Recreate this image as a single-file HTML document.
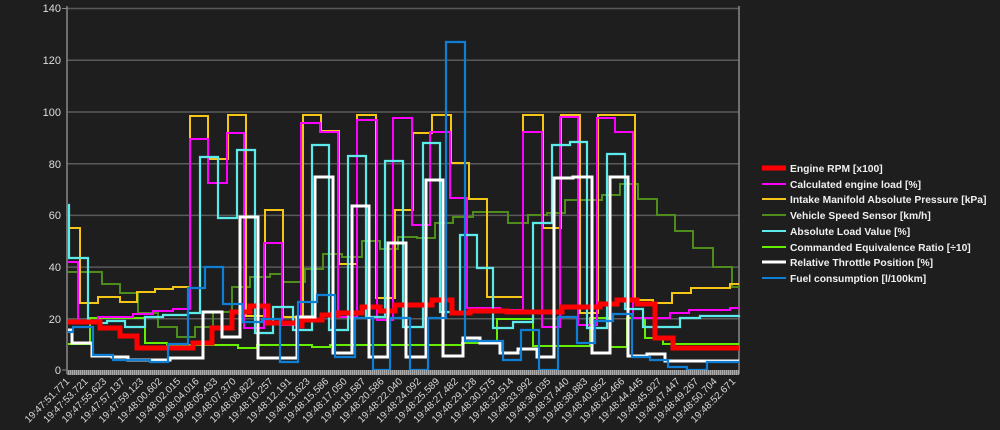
<!DOCTYPE html>
<html><head><meta charset="utf-8"><style>
html,body{margin:0;padding:0;background:#1e1e1e;width:1000px;height:430px;overflow:hidden}
svg{display:block}
text{font-family:"Liberation Sans",sans-serif}
</style></head><body>
<svg id="s" width="1000" height="430" xmlns="http://www.w3.org/2000/svg">
<rect width="1000" height="430" fill="#1e1e1e"/>
<g stroke="#5a5a5a" stroke-width="1.5">
<line x1="67" y1="8.5" x2="739" y2="8.5"/>
<line x1="67" y1="60.3" x2="739" y2="60.3"/>
<line x1="67" y1="112" x2="739" y2="112"/>
<line x1="67" y1="163.7" x2="739" y2="163.7"/>
<line x1="67" y1="215.4" x2="739" y2="215.4"/>
<line x1="67" y1="267.1" x2="739" y2="267.1"/>
<line x1="67" y1="318.8" x2="739" y2="318.8"/>
</g>
<line x1="67" y1="6" x2="67" y2="374" stroke="#888" stroke-width="1.5"/>
<line x1="739" y1="6" x2="739" y2="374" stroke="#888" stroke-width="1.5"/>
<g fill="#ddd" font-size="11" text-anchor="end">
<text x="61" y="12">140</text><text x="61" y="64">120</text><text x="61" y="116">100</text>
<text x="61" y="168">80</text><text x="61" y="219">60</text><text x="61" y="271">40</text>
<text x="61" y="323">20</text><text x="61" y="374">0</text>
</g>
<g stroke="#888"><line x1="62" y1="8.5" x2="67" y2="8.5"/><line x1="62" y1="370" x2="67" y2="370"/></g>
<g id="series" fill="none" stroke-linejoin="miter"></g>
<defs><pattern id="tk" width="2" height="6" patternUnits="userSpaceOnUse"><rect width="1" height="6" fill="#aaa"/><rect x="1" width="1" height="6" fill="#777"/></pattern></defs>
<rect x="67" y="370" width="672" height="5" fill="url(#tk)"/>
<g id="xl" fill="#d8d8d8" font-size="10" text-anchor="end"></g>
<g font-size="10.3" font-weight="bold" fill="#f0f0f0">
<line x1="762" y1="168" x2="786" y2="168" stroke="#ff0000" stroke-width="5"/><text x="790" y="172">Engine RPM [x100]</text>
<line x1="762" y1="184" x2="786" y2="184" stroke="#ff00ff" stroke-width="2"/><text x="790" y="188">Calculated engine load [%]</text>
<line x1="762" y1="199" x2="786" y2="199" stroke="#f5c518" stroke-width="2"/><text x="790" y="203">Intake Manifold Absolute Pressure [kPa]</text>
<line x1="762" y1="215" x2="786" y2="215" stroke="#4e8c1c" stroke-width="2"/><text x="790" y="219">Vehicle Speed Sensor [km/h]</text>
<line x1="762" y1="231" x2="786" y2="231" stroke="#5ceaea" stroke-width="2"/><text x="790" y="235">Absolute Load Value [%]</text>
<line x1="762" y1="247" x2="786" y2="247" stroke="#66ee00" stroke-width="2"/><text x="790" y="251">Commanded Equivalence Ratio [÷10]</text>
<line x1="762" y1="262" x2="786" y2="262" stroke="#ffffff" stroke-width="3"/><text x="790" y="266">Relative Throttle Position [%]</text>
<line x1="762" y1="278" x2="786" y2="278" stroke="#0f7fd6" stroke-width="2"/><text x="790" y="282">Fuel consumption [l/100km]</text>
</g>
</svg>
<script>
var S=[
["#4e8c1c",2,[68,272,102,284,120,293,138,313,158,327,177,337,195,327,213,312,232,287,250,277,270,274,283,282,305,269,323,254,342,257,362,241,380,249,398,237,417,238,435,223,453,217,473,212,508,223,528,215,547,213,565,200,602,195,620,184,638,199,657,215,675,231,693,248,713,267,732,287,739,287]],
["#66ee00",2,[68,344,90,318,145,343,167,345,238,348,257,345,312,347,330,345,442,345,462,343,497,319,533,346,590,318,610,347,627,318,645,338,663,344,739,344]],
["#f5c518",2,[68,228,80,303,98,297,120,302,137,292,155,289,173,287,190,116,208,159,228,115,246,316,265,210,283,317,303,115,321,131,339,264,357,115,376,298,395,210,413,133,432,115,451,163,469,199,487,297,523,115,543,228,561,115,580,313,598,115,635,300,653,303,672,293,691,288,730,284,739,284]],
["#ff00ff",2,[68,262,78,323,98,317,133,314,153,311,173,309,190,139,208,183,227,133,244,328,264,243,282,325,301,123,320,132,338,317,357,120,377,320,393,118,412,225,430,132,450,198,467,308,500,310,523,132,542,327,560,117,578,325,597,118,615,132,633,318,670,313,689,310,730,308,739,308]],
["#5ceaea",2.2,[68,205,69,258,88,323,107,321,125,327,145,317,163,315,188,313,200,157,218,218,237,150,255,333,273,307,293,330,312,145,329,330,348,156,366,317,385,161,403,327,423,143,440,312,460,235,477,268,493,328,513,322,533,223,552,145,570,142,587,328,607,154,625,309,643,327,680,318,700,316,739,315]],
["#ff0000",5,[68,322,100,328,120,336,137,348,193,343,212,328,232,312,250,306,268,323,298,326,302,320,322,315,338,313,362,307,380,311,395,305,432,300,452,313,470,311,507,312,525,312,562,307,600,304,617,300,637,304,655,338,673,348,739,348]],
["#ffffff",3,[68,330,72,343,92,356,112,357,128,360,170,358,203,312,222,337,240,217,258,358,297,317,315,177,333,353,352,206,369,357,388,243,406,357,426,180,443,356,463,338,480,343,500,353,518,349,537,357,554,178,573,177,592,353,610,177,628,356,647,354,665,361,739,361]],
["#0f7fd6",2.2,[68,332,73,327,93,355,113,360,150,362,168,344,188,288,205,267,223,304,243,322,262,319,280,362,298,302,317,295,335,357,355,318,373,370,390,318,410,370,428,318,446,42,465,341,503,360,521,330,539,370,558,317,577,343,595,321,613,314,632,357,650,360,668,367,687,370,707,362,739,362]]
];
var g=document.getElementById('series'),ns="http://www.w3.org/2000/svg";
S.forEach(function(s){var a=s[2],d="M"+a[0]+" "+a[1];for(var i=2;i<a.length;i+=2){d+=" H"+a[i]+" V"+a[i+1];}
var p=document.createElementNS(ns,'path');p.setAttribute('d',d);p.setAttribute('stroke',s[0]);p.setAttribute('stroke-width',s[1]);p.setAttribute('fill','none');g.appendChild(p);});
var L=["19:47:51.771","19:47:53.721","19:47:55.623","19:47:57.137","19:47:59.123","19:48:00.602","19:48:02.015","19:48:04.016","19:48:05.433","19:48:07.370","19:48:08.822","19:48:10.257","19:48:12.191","19:48:13.623","19:48:15.586","19:48:17.050","19:48:18.587","19:48:20.586","19:48:22.040","19:48:24.092","19:48:25.589","19:48:27.482","19:48:29.128","19:48:30.575","19:48:32.514","19:48:33.992","19:48:36.035","19:48:37.440","19:48:38.883","19:48:40.952","19:48:42.466","19:48:44.445","19:48:45.927","19:48:47.447","19:48:49.267","19:48:50.704","19:48:52.671"];
var xl=document.getElementById('xl');
L.forEach(function(t,i){var x=70+i*18.5,y=382;var e=document.createElementNS(ns,'text');e.setAttribute('x',x);e.setAttribute('y',y);e.setAttribute('transform','rotate(-45 '+x+' '+y+')');e.textContent=t;xl.appendChild(e);});
</script>
</body></html>
